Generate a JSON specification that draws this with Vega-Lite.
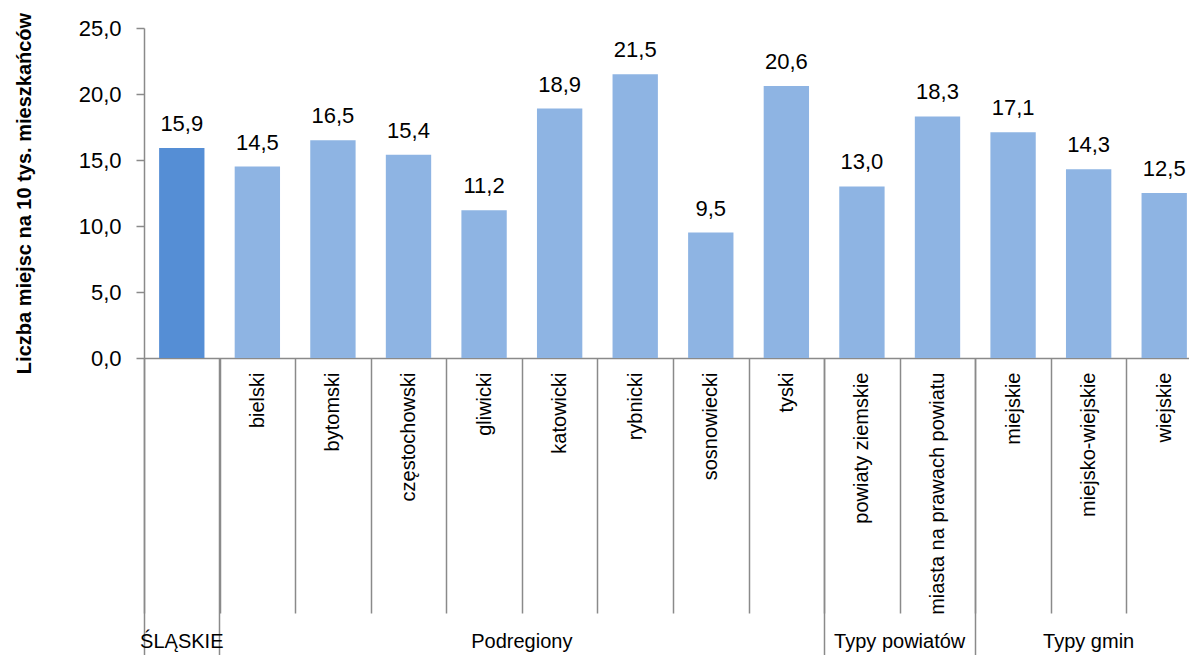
{
  "$schema": "https://vega.github.io/schema/vega-lite/v6.json",
  "width": 1045,
  "height": 330,
  "autosize": "none",
  "padding": {"left": 144, "top": 28, "right": 0, "bottom": 297},
  "config": {
    "view": {"stroke": null},
    "font": "Liberation Sans",
    "locale": {"number": {"decimal": ",", "thousands": " ", "grouping": [3], "currency": ["", " zł"]}},
    "axis": {"grid": false, "domainColor": "#8a8a8a", "tickColor": "#8a8a8a", "labelColor": "#000000", "titleColor": "#000000", "labelFont": "Liberation Sans", "titleFont": "Liberation Sans", "domainWidth": 1.5, "tickWidth": 1.5}
  },
  "data": {
    "values": [
      {"cat": "ŚLĄSKIE", "value": 15.9},
      {"cat": "bielski", "value": 14.5},
      {"cat": "bytomski", "value": 16.5},
      {"cat": "częstochowski", "value": 15.4},
      {"cat": "gliwicki", "value": 11.2},
      {"cat": "katowicki", "value": 18.9},
      {"cat": "rybnicki", "value": 21.5},
      {"cat": "sosnowiecki", "value": 9.5},
      {"cat": "tyski", "value": 20.6},
      {"cat": "powiaty ziemskie", "value": 13.0},
      {"cat": "miasta na prawach powiatu", "value": 18.3},
      {"cat": "miejskie", "value": 17.1},
      {"cat": "miejsko-wiejskie", "value": 14.3},
      {"cat": "wiejskie", "value": 12.5}
    ]
  },
  "resolve": {"axis": {"x": "independent", "y": "independent"}},
  "layer": [
    {
      "mark": {"type": "bar", "width": {"band": 0.6}},
      "encoding": {
        "x": {"field": "cat", "type": "nominal", "sort": null,
          "scale": {"range": [0, 1058], "paddingInner": 0, "paddingOuter": 0},
          "axis": {"orient": "bottom", "title": null, "tickBand": "extent", "tickSize": 255, "labelPadding": -241, "labelAngle": -90, "labelFontSize": 20, "labelLimit": 400, "labelExpr": "datum.value === 'ŚLĄSKIE' ? '' : datum.label"}},
        "y": {"field": "value", "type": "quantitative",
          "scale": {"domain": [0, 25], "nice": false},
          "axis": {"orient": "left", "values": [0, 5, 10, 15, 20, 25], "format": ".1f", "labelFontSize": 22, "tickSize": 8, "labelPadding": 15, "title": "Liczba miejsc na 10 tys. mieszkańców", "titleFontSize": 20, "titleFontWeight": "bold", "titlePadding": 44}},
        "color": {"condition": {"test": "datum.cat === 'ŚLĄSKIE'", "value": "#558ED5"}, "value": "#8EB4E3"}
      }
    },
    {
      "mark": {"type": "text", "baseline": "alphabetic", "dy": -17, "fontSize": 22, "color": "#000000"},
      "encoding": {
        "x": {"field": "cat", "type": "nominal", "sort": null,
          "scale": {"range": [0, 1058], "paddingInner": 0, "paddingOuter": 0},
          "axis": {"orient": "bottom", "title": null, "values": ["ŚLĄSKIE", "bielski", "powiaty ziemskie", "miejskie"], "bandPosition": 0, "tickSize": 297, "labels": false, "domain": false}},
        "y": {"field": "value", "type": "quantitative", "axis": null},
        "text": {"field": "value", "type": "quantitative", "format": ".1f"}
      }
    },
    {
      "mark": {"type": "text", "opacity": 0},
      "encoding": {
        "x": {"field": "cat", "type": "nominal", "sort": null,
          "scale": {"range": [0, 1058], "paddingInner": 0, "paddingOuter": 0},
          "axis": {"orient": "bottom", "title": null, "values": ["ŚLĄSKIE", "miejsko-wiejskie"], "labelExpr": "datum.value === 'ŚLĄSKIE' ? 'ŚLĄSKIE' : 'Typy gmin'", "ticks": false, "domain": false, "labelPadding": 273, "labelAngle": 0, "labelAlign": "center", "labelBaseline": "top", "labelFontSize": 20}},
        "y": {"field": "value", "type": "quantitative", "axis": null},
        "text": {"value": ""}
      }
    },
    {
      "mark": {"type": "text", "opacity": 0},
      "encoding": {
        "x": {"field": "cat", "type": "nominal", "sort": null,
          "scale": {"range": [0, 1058], "paddingInner": 0, "paddingOuter": 0},
          "axis": {"orient": "bottom", "title": null, "values": ["katowicki", "miasta na prawach powiatu"], "labelExpr": "datum.value === 'katowicki' ? 'Podregiony' : 'Typy powiatów'", "labelOffset": -37.8, "ticks": false, "domain": false, "labelPadding": 273, "labelAngle": 0, "labelAlign": "center", "labelBaseline": "top", "labelFontSize": 20}},
        "y": {"field": "value", "type": "quantitative", "axis": null},
        "text": {"value": ""}
      }
    }
  ]
}
